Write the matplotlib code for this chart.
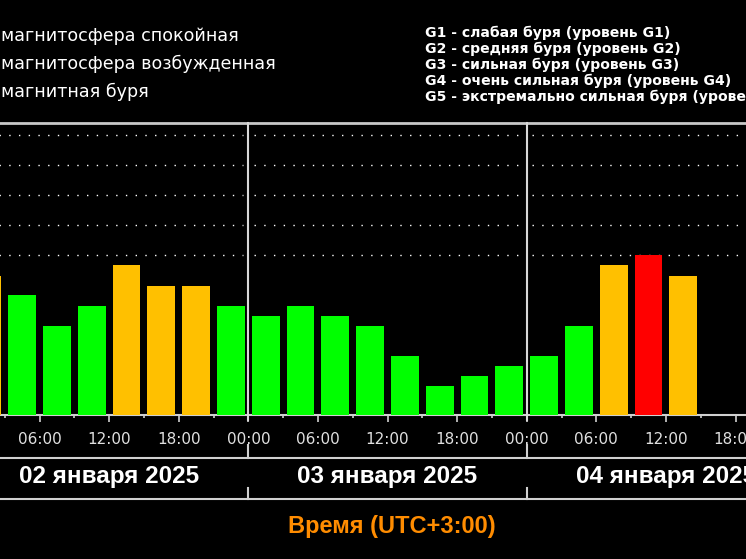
import matplotlib
matplotlib.use("Agg")
import matplotlib.pyplot as plt
import numpy as np
from matplotlib.lines import Line2D
from matplotlib.transforms import blended_transform_factory

# ---- data ----
kp_jan02 = [4.33, 3.67, 2.67, 3.33, 4.67, 4.0, 4.0, 3.33]
kp_jan03 = [3.0, 3.33, 3.0, 2.67, 1.67, 0.67, 1.0, 1.33]
kp_jan04 = [1.67, 2.67, 4.67, 5.0, 4.33]
day_labels = ["02 января 2025", "03 января 2025", "04 января 2025"]
hour_ticks = [0, 6, 12, 18]
legend_left = ["магнитосфера спокойная", "магнитосфера возбужденная", "магнитная буря"]
legend_right = ["G1 - слабая буря (уровень G1)",
                "G2 - средняя буря (уровень G2)",
                "G3 - сильная буря (уровень G3)",
                "G4 - очень сильная буря (уровень G4)",
                "G5 - экстремально сильная буря (уровень G5)"]
xlabel = "Время (UTC+3:00)"

kp = kp_jan02 + kp_jan03 + kp_jan04
centers = np.arange(len(kp)) * 3 + 1.5

GREEN = "#00FF00"
ORANGE = "#FFC000"
RED = "#FF0000"
def kp_color(v):
    if v >= 5:
        return RED
    if v >= 4:
        return ORANGE
    return GREEN
colors = [kp_color(v) for v in kp]

W, H = 746, 559
fig = plt.figure(figsize=(W / 100, H / 100), dpi=100, facecolor="black")

def fy(py):
    return 1 - py / H

ax_top, ax_bot = 123, 415
ax = fig.add_axes([0, fy(ax_bot), 1, (ax_bot - ax_top) / H], facecolor="black")
ymin, ymax = -0.3, 9.4
xlo, xhi = 2.59, 66.9

ax.bar(centers, np.array(kp) - ymin, bottom=ymin, width=2.4, color=colors,
       edgecolor="none", zorder=3)

# dotted grid per day
for d in range(3):
    for g in [5, 6, 7, 8, 9]:
        ax.hlines(g, d * 24 + 0.45, (d + 1) * 24 - 0.45, colors="white",
                  linestyles=(0, (1, 6)), linewidth=1.0, zorder=2)

# day separators
for d in [1, 2]:
    ax.axvline(d * 24, ymin=-5 / (ax_bot - ax_top), ymax=1, color="#D8D8D8",
               linewidth=1.5, clip_on=False, zorder=4)

for s in ["left", "right"]:
    ax.spines[s].set_visible(False)
ax.spines["top"].set_color("#C8C8C8")
ax.spines["top"].set_linewidth(2)
ax.spines["bottom"].set_color("#D0D0D0")
ax.spines["bottom"].set_linewidth(1.5)
ax.set_yticks([])

major = [d * 24 + h for d in range(3) for h in hour_ticks]
minor = [m + 3 for m in major]
ax.set_xticks(major)
ax.set_xticklabels([f"{h:02d}:00" for d in range(3) for h in hour_ticks])
ax.set_xticks(minor, minor=True)
ax.tick_params(axis="x", which="major", length=5, width=1.2, color="#D0D0D0",
               labelcolor="#E0E0E0", labelsize=11, pad=7)
ax.tick_params(axis="x", which="minor", length=2.5, width=1.2, color="#D0D0D0")
for t in ax.get_xticklabels():
    t.set_fontfamily("DejaVu Sans")
ax.set_xlim(xlo, xhi)
ax.set_ylim(ymin, ymax)

# lower date band lines
for py in [457.7, 499.3]:
    fig.add_artist(Line2D([0, 1], [fy(py), fy(py)], transform=fig.transFigure,
                          color="#D0D0D0", linewidth=1.5))
bt = blended_transform_factory(ax.transData, fig.transFigure)
for d in [1, 2]:
    for (a, b) in [(445, 457.7), (488, 499.3)]:
        fig.add_artist(Line2D([d * 24, d * 24], [fy(a), fy(b)], transform=bt,
                              color="#D0D0D0", linewidth=1.5))

for d, lab in enumerate(day_labels):
    fig.text(d * 24 + 12, fy(477), lab, transform=bt, ha="center", va="center",
             color="white", fontsize=17.5, fontweight="bold",
             fontfamily="Liberation Sans")

fig.text(392 / W, fy(527), xlabel, ha="center", va="center", color="#FF8C00",
         fontsize=17, fontweight="bold", fontfamily="Liberation Sans")

for i, t in enumerate(legend_left):
    fig.text(1 / W, fy(36 + 28 * i), t, ha="left", va="center", color="white",
             fontsize=12.6, fontfamily="DejaVu Sans")

for i, t in enumerate(legend_right):
    fig.text(425 / W, fy(33 + 16 * i), t, ha="left", va="center", color="white",
             fontsize=10.1, fontweight="bold", fontfamily="DejaVu Sans")

fig.savefig("out.png", dpi=100, facecolor="black")
